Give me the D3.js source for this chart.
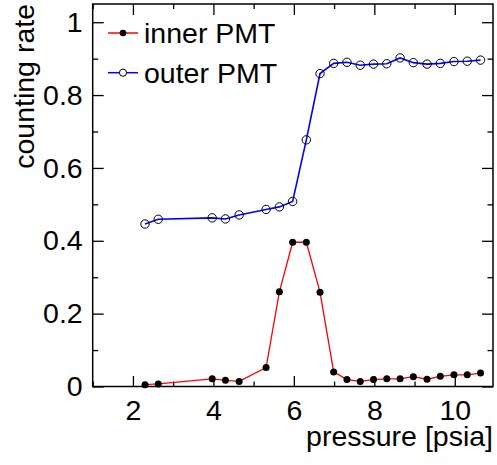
<!DOCTYPE html>
<html>
<head>
<meta charset="utf-8">
<script src="https://cdn.jsdelivr.net/npm/d3@7"></script>
<style>
  html, body { margin: 0; padding: 0; background: #fff; }
  svg { display: block; font-family: "Liberation Sans", Arial, Helvetica, sans-serif; }
</style>
</head>
<body>
<svg id="chart" width="497" height="465"></svg>
<script>
// Pressure scan: counting rate of the two PMTs
const pressure = [2.30, 2.63, 3.97, 4.30, 4.64, 5.31, 5.64, 5.97, 6.31, 6.65, 6.99,
                  7.32, 7.65, 7.98, 8.31, 8.64, 8.97, 9.31, 9.64, 9.98, 10.31, 10.64];
const innerRate = [0.005, 0.007, 0.021, 0.017, 0.014, 0.052, 0.260, 0.396, 0.396, 0.259, 0.040,
                   0.019, 0.014, 0.019, 0.021, 0.021, 0.027, 0.020, 0.028, 0.032, 0.032, 0.037];
const outerRate = [0.446, 0.459, 0.463, 0.460, 0.471, 0.486, 0.493, 0.508, 0.677, 0.859, 0.887,
                   0.890, 0.882, 0.885, 0.886, 0.902, 0.889, 0.885, 0.887, 0.892, 0.893, 0.896];
const xMajor = [2, 4, 6, 8, 10];
const xMinor = [1, 3, 5, 7, 9];
const yMajor = [0, 0.2, 0.4, 0.6, 0.8, 1];
const yMinor = [0.1, 0.3, 0.5, 0.7, 0.9];
const seriesNames = ["inner PMT", "outer PMT"];

const svg = d3.select("#chart");
const plotLeft = 92.7, plotRight = 493, plotTop = 4, plotBottom = 386.5;
const FONT = 28.5;

const x = d3.scaleLinear().domain([1, 10.95]).range([plotLeft, plotRight]);
const y = d3.scaleLinear().domain([0, 1.05]).range([plotBottom, plotTop]);

const fmtY = d => d === 0 ? "0" : d === 1 ? "1" : d3.format(".1f")(d);

function styleAxis(g) {
  g.select(".domain").remove();
  g.selectAll("line").attr("stroke", "#000").attr("stroke-width", 1.3);
  g.selectAll("text").attr("font-size", FONT).attr("fill", "#000")
    .attr("font-family", "Liberation Sans, Arial, Helvetica, sans-serif");
}

// bottom axis: major ticks with labels, minor ticks without
svg.append("g").attr("transform", `translate(0,${plotBottom})`)
  .call(d3.axisBottom(x).tickValues(xMajor).tickSize(-10.5).tickPadding(13).tickFormat(d3.format("d")))
  .call(styleAxis);
svg.append("g").attr("transform", `translate(0,${plotBottom})`)
  .call(d3.axisBottom(x).tickValues(xMinor).tickSize(-5).tickFormat(""))
  .call(styleAxis);
// top axis mirror
svg.append("g").attr("transform", `translate(0,${plotTop})`)
  .call(d3.axisTop(x).tickValues(xMajor).tickSize(-11).tickFormat(""))
  .call(styleAxis);
svg.append("g").attr("transform", `translate(0,${plotTop})`)
  .call(d3.axisTop(x).tickValues(xMinor).tickSize(-5).tickFormat(""))
  .call(styleAxis);

// left axis
svg.append("g").attr("transform", `translate(${plotLeft},0)`)
  .call(d3.axisLeft(y).tickValues(yMajor).tickSize(-11).tickPadding(10).tickFormat(fmtY))
  .call(styleAxis);
svg.append("g").attr("transform", `translate(${plotLeft},0)`)
  .call(d3.axisLeft(y).tickValues(yMinor).tickSize(-5.5).tickFormat(""))
  .call(styleAxis);
// right axis mirror
svg.append("g").attr("transform", `translate(${plotRight},0)`)
  .call(d3.axisRight(y).tickValues(yMajor).tickSize(-11).tickFormat(""))
  .call(styleAxis);
svg.append("g").attr("transform", `translate(${plotRight},0)`)
  .call(d3.axisRight(y).tickValues(yMinor).tickSize(-5.5).tickFormat(""))
  .call(styleAxis);

// frame
svg.append("rect")
  .attr("x", plotLeft).attr("y", plotTop)
  .attr("width", plotRight - plotLeft).attr("height", plotBottom - plotTop)
  .attr("fill", "none").attr("stroke", "#000").attr("stroke-width", 1.5);

// axis titles
svg.append("text")
  .attr("x", plotRight).attr("y", 446)
  .attr("text-anchor", "end").attr("font-size", FONT).attr("fill", "#000")
  .text("pressure [psia]");
svg.append("text")
  .attr("transform", `translate(34,${plotTop}) rotate(-90)`)
  .attr("text-anchor", "end").attr("font-size", FONT).attr("fill", "#000")
  .text("counting rate");

// series
const line = d3.line().x(d => x(d[0])).y(d => y(d[1]));
const innerPts = pressure.map((p, i) => [p, innerRate[i]]);
const outerPts = pressure.map((p, i) => [p, outerRate[i]]);

svg.append("path").datum(outerPts)
  .attr("d", line).attr("fill", "none").attr("stroke", "#0000ff").attr("stroke-width", 1.6);
svg.append("g").selectAll("circle").data(outerPts).join("circle")
  .attr("cx", d => x(d[0])).attr("cy", d => y(d[1])).attr("r", 4.2)
  .attr("fill", "none").attr("stroke", "#000").attr("stroke-width", 1);

svg.append("path").datum(innerPts)
  .attr("d", line).attr("fill", "none").attr("stroke", "#ff0000").attr("stroke-width", 1.3);
svg.append("g").selectAll("circle").data(innerPts).join("circle")
  .attr("cx", d => x(d[0])).attr("cy", d => y(d[1])).attr("r", 3.5)
  .attr("fill", "#000");

// legend
const legend = svg.append("g");
const legendRows = [
  { name: seriesNames[0], color: "#ff0000", filled: true, y: 33 },
  { name: seriesNames[1], color: "#0000ff", filled: false, y: 72.7 }
];
legendRows.forEach(r => {
  legend.append("line").attr("x1", 108).attr("x2", 138).attr("y1", r.y).attr("y2", r.y)
    .attr("stroke", r.color).attr("stroke-width", 1.5);
  legend.append("circle").attr("cx", 123).attr("cy", r.y).attr("r", r.filled ? 3.3 : 3.6)
    .attr("fill", r.filled ? "#000" : "#fff").attr("stroke", "#000").attr("stroke-width", r.filled ? 0 : 1);
  legend.append("text").attr("x", 144).attr("y", r.y + 10)
    .attr("font-size", FONT).attr("fill", "#000").text(r.name);
});
</script>
</body>
</html>
